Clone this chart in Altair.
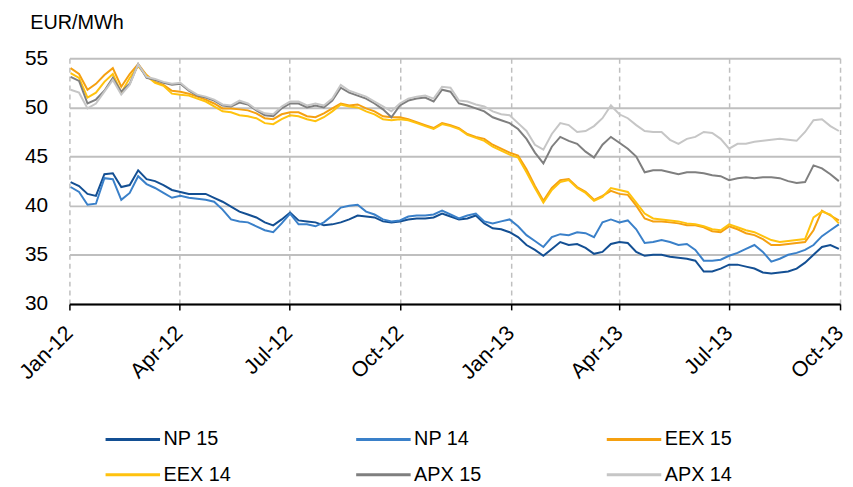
import altair as alt
import pandas as pd

start = pd.Timestamp("2012-01-02")
dates = [(start + pd.Timedelta(days=7 * k)).strftime("%Y-%m-%d") for k in range(92)]

np15 = [42.4, 42.0, 41.2, 41.0, 43.2, 43.3, 41.9, 42.1, 43.6, 42.7,
        42.5, 42.1, 41.6, 41.4, 41.2, 41.2, 41.2, 40.8, 40.4, 39.9,
        39.4, 39.1, 38.8, 38.3, 38.0, 38.6, 39.3, 38.5, 38.4, 38.3,
        38.0, 38.1, 38.3, 38.6, 39.0, 38.9, 38.8, 38.4, 38.3, 38.4,
        38.6, 38.7, 38.7, 38.8, 39.2, 38.9, 38.6, 38.7, 39.0, 38.2,
        37.7, 37.6, 37.3, 36.8, 36.0, 35.5, 34.9, 35.6, 36.3, 36.0,
        36.1, 35.7, 35.1, 35.3, 36.1, 36.3, 36.2, 35.3, 34.9, 35.0,
        35.0, 34.8, 34.7, 34.6, 34.4, 33.3, 33.3, 33.6, 34.0, 34.0,
        33.8, 33.6, 33.2, 33.1, 33.2, 33.3, 33.6, 34.2, 35.0, 35.8,
        36.0, 35.6]
np14 = [41.9, 41.4, 40.1, 40.2, 42.8, 42.7, 40.6, 41.3, 43.0, 42.2,
        41.8, 41.3, 40.8, 41.0, 40.8, 40.7, 40.6, 40.4, 39.6, 38.6,
        38.4, 38.3, 37.9, 37.5, 37.3, 38.2, 39.2, 38.1, 38.1, 37.9,
        38.3, 39.0, 39.8, 40.0, 40.1, 39.4, 39.1, 38.6, 38.4, 38.5,
        38.9, 39.0, 39.0, 39.1, 39.5, 39.1, 38.7, 39.0, 39.2, 38.4,
        38.2, 38.4, 38.6, 37.9, 37.0, 36.4, 35.8, 36.8, 37.1, 37.0,
        37.3, 37.2, 36.8, 38.3, 38.6, 38.3, 38.5, 37.6, 36.2, 36.3,
        36.5, 36.3, 36.0, 36.1, 35.5, 34.4, 34.4, 34.5, 34.9, 35.2,
        35.6, 36.0, 35.3, 34.3, 34.6, 35.0, 35.2, 35.5, 36.0, 36.9,
        37.5, 38.1]
eex15 = [54.0, 53.4, 51.8, 52.4, 53.3, 54.0, 52.1, 53.4, 54.4, 53.3,
         52.6, 52.3, 51.7, 51.6, 51.4, 51.1, 50.8, 50.4, 49.9, 49.9,
         49.8, 49.7, 49.4, 48.9, 48.8, 49.3, 49.5, 49.5, 49.1, 49.0,
         49.4, 49.9, 50.4, 50.2, 50.3, 49.9, 49.6, 49.1, 49.0, 49.0,
         48.8, 48.5, 48.2, 47.9, 48.4, 48.2, 47.9, 47.3, 47.0, 46.8,
         46.2, 45.8, 45.4, 45.1, 43.7, 42.0, 40.5, 41.8, 42.6, 42.7,
         41.9, 41.4, 40.6, 41.0, 41.5, 41.2, 41.1, 40.0, 38.7, 38.4,
         38.4, 38.3, 38.2, 38.0, 38.0, 37.8, 37.4, 37.3, 37.9, 37.6,
         37.2, 37.0, 36.6, 36.0, 36.0, 36.1, 36.2, 36.3, 37.5, 39.5,
         39.0, 38.5]
eex14 = [53.5, 53.0, 51.0, 51.5, 52.6, 53.4, 51.5, 53.0, 54.2, 53.2,
         52.5, 52.2, 51.4, 51.3, 51.2, 50.9, 50.6, 50.1, 49.6, 49.5,
         49.2, 49.1, 48.9, 48.4, 48.3, 48.8, 49.2, 49.1, 48.8, 48.6,
         49.0, 49.6, 50.3, 50.1, 50.0, 49.6, 49.3, 48.8, 48.7, 48.8,
         48.7, 48.4, 48.1, 47.8, 48.3, 48.1, 47.8, 47.2, 46.9, 46.6,
         46.0, 45.6, 45.2, 44.9, 43.4, 41.8, 40.3, 41.6, 42.4, 42.6,
         41.8, 41.3, 40.5, 40.9, 41.8, 41.6, 41.4, 40.3, 39.2, 38.7,
         38.6, 38.5, 38.4, 38.2, 38.1, 37.9, 37.6, 37.5, 38.1, 37.8,
         37.5, 37.3, 36.9, 36.5, 36.3, 36.4, 36.5, 36.6, 38.8, 39.4,
         39.1, 38.2]
apx15 = [53.1, 52.7, 50.4, 50.8, 51.7, 53.0, 51.6, 52.4, 54.4, 53.0,
         52.8, 52.5, 52.3, 52.4, 51.7, 51.2, 51.0, 50.7, 50.2, 50.1,
         50.5, 50.3, 49.7, 49.2, 49.1, 49.9, 50.4, 50.4, 50.0, 50.2,
         50.0, 50.7, 52.0, 51.5, 51.2, 50.9, 50.4, 49.8, 49.0, 50.2,
         50.7, 50.9, 51.0, 50.6, 51.8, 51.6, 50.4, 50.2, 49.9, 49.6,
         49.0, 48.7, 48.4, 47.8, 46.8, 45.4, 44.3, 46.0, 47.0, 46.6,
         46.3, 45.5, 44.9, 46.2, 47.0, 46.4, 45.8, 45.0, 43.4, 43.6,
         43.6, 43.4, 43.2, 43.4, 43.4, 43.3, 43.1, 43.0, 42.6, 42.8,
         42.9, 42.8, 42.9, 42.9, 42.8, 42.5, 42.3, 42.4, 44.1, 43.8,
         43.2, 42.5]
apx14 = [51.8, 51.5, 49.9, 50.4, 51.6, 52.8, 51.3, 52.3, 54.4, 53.1,
         52.9, 52.6, 52.4, 52.5, 51.8, 51.3, 51.1, 50.8, 50.3, 50.2,
         50.7, 50.4, 49.8, 49.4, 49.3, 50.1, 50.6, 50.6, 50.2, 50.4,
         50.2, 50.9, 52.3, 51.7, 51.4, 51.1, 50.6, 50.1, 49.6, 50.4,
         50.9, 51.1, 51.2, 50.9, 52.1, 52.0, 50.7, 50.6, 50.3, 50.1,
         49.6, 49.3, 49.2, 48.4, 47.6, 46.2, 45.7, 47.3, 48.4, 48.2,
         47.5, 47.6, 48.1, 48.9, 50.2, 49.3, 48.9, 48.2, 47.6, 47.5,
         47.5, 46.7, 46.3, 46.8, 47.0, 47.5, 47.4, 46.8, 45.8, 46.3,
         46.3, 46.5, 46.6, 46.7, 46.8, 46.7, 46.6, 47.5, 48.7, 48.8,
         48.1, 47.6]

series_names = ["NP 15", "NP 14", "EEX 15", "EEX 14", "APX 15", "APX 14"]
series_values = [np15, np14, eex15, eex14, apx15, apx14]
series_colors = ["#134F93", "#3A80C9", "#F5A010", "#FFC20E", "#7F7F7F", "#C6C6C6"]

rows = []
for i, (name, vals) in enumerate(zip(series_names, series_values)):
    for d, v in zip(dates, vals):
        rows.append({"date": d, "series": name, "value": v, "series_order": i})
df = pd.DataFrame(rows)

tick_dates = [alt.DateTime(year=y, month=m, date=1) for y, m in
              [(2012, 1), (2012, 4), (2012, 7), (2012, 10), (2013, 1), (2013, 4), (2013, 7), (2013, 10)]]

FONT = "Liberation Sans"

chart = alt.Chart(df).mark_line(strokeWidth=2).encode(
    x=alt.X("date:T",
            scale=alt.Scale(domain=[alt.DateTime(year=2012, month=1, date=1),
                                    alt.DateTime(year=2013, month=10, date=1)]),
            axis=alt.Axis(values=tick_dates, format="%b-%y", title=None,
                          labelAngle=-45, labelAlign="right", labelBaseline="middle",
                          labelFontSize=21.5, labelColor="black",
                          labelFont=FONT, labelPadding=20,
                          grid=True, gridColor="#BFBFBF", gridDash=[5, 4], gridWidth=1.5,
                          domain=True, domainColor="black", domainWidth=2,
                          ticks=True, tickColor="black", tickSize=6, tickWidth=1.5)),
    y=alt.Y("value:Q",
            scale=alt.Scale(domain=[30, 55], nice=False, zero=False),
            axis=alt.Axis(values=[30, 35, 40, 45, 50, 55], title="EUR/MWh",
                          titleAngle=0, titleX=-40, titleY=-36, titleAlign="left",
                          titleBaseline="middle", titleFontSize=20, titleFontWeight="normal",
                          titleFont=FONT, titleColor="black",
                          labelFontSize=21, labelColor="black", labelFont=FONT,
                          labelPadding=22, ticks=False, domain=False,
                          grid=True, gridColor="#BFBFBF", gridWidth=2)),
    color=alt.Color("series:N",
                    scale=alt.Scale(domain=series_names, range=series_colors),
                    sort=series_names,
                    legend=alt.Legend(title=None, orient="none", legendX=68, legendY=372,
                                      direction="horizontal", columns=3,
                                      symbolType="M-4,0H1", symbolSize=484,
                                      symbolStrokeWidth=3, labelFontSize=20, labelFont=FONT,
                                      labelColor="black", labelOffset=2,
                                      columnPadding=120, rowPadding=13)),
    order=alt.Order("series_order:Q"),
).properties(
    width=778, height=248,
    autosize=alt.AutoSizeParams(type="none"),
    padding={"left": 62, "top": 48.5, "right": 5, "bottom": 178},
).configure_view(stroke=None)

chart.save("out.html", embed_options={"renderer": "svg", "actions": False})
